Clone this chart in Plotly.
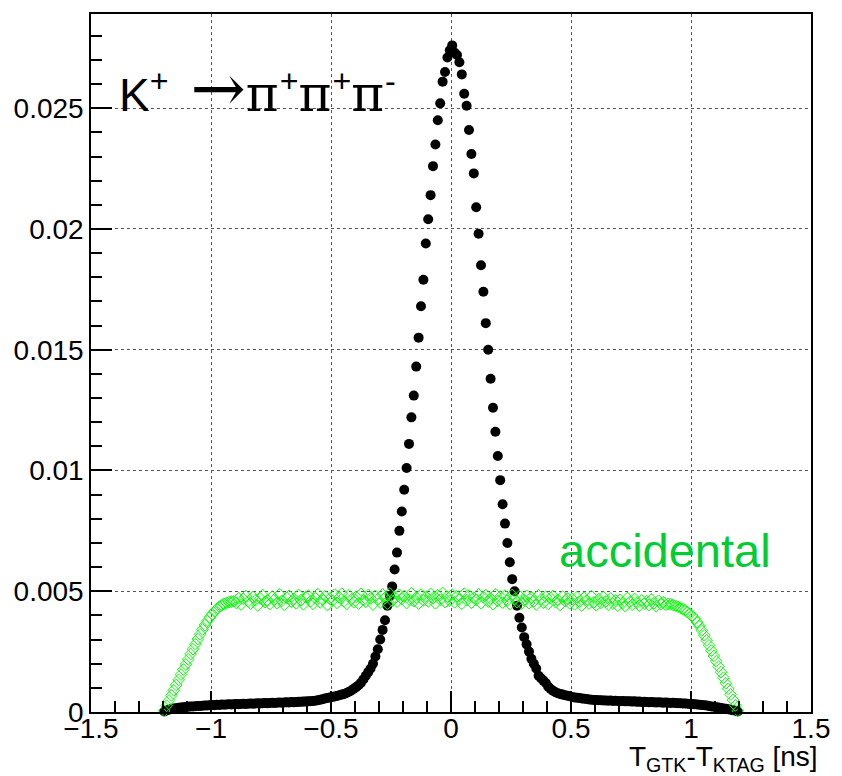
import numpy as np
import plotly.graph_objects as go

# Histogram binning (bin centres from -1.195 to 1.195, width 0.01)
BIN_LO = -1.2
BIN_W = 0.01

# K+ -> pi+ pi+ pi- signal (black), 240 bins
k3pi_left_tail = [
    0.00002, 0.00006, 0.00009, 0.00012, 0.00014, 0.00016, 0.00018, 0.00019, 0.00020, 0.00021,
    0.00022, 0.00023, 0.00023, 0.00024, 0.00025, 0.00025, 0.00026, 0.00027, 0.00027, 0.00028,
    0.00029, 0.00028, 0.00030, 0.00029, 0.00031, 0.00030, 0.00031, 0.00032, 0.00031, 0.00032,
    0.00033, 0.00032, 0.00033, 0.00034, 0.00033, 0.00034, 0.00035, 0.00034, 0.00035, 0.00036,
    0.00035, 0.00036, 0.00037, 0.00036, 0.00037, 0.00038, 0.00037, 0.00038, 0.00039, 0.00038,
    0.00039, 0.00040, 0.00039, 0.00041, 0.00040, 0.00041, 0.00042, 0.00042, 0.00043, 0.00043,
    0.00044, 0.00045, 0.00046, 0.00047, 0.00049, 0.00051, 0.00053, 0.00056, 0.00058, 0.00060,
]
k3pi_core = [
    0.00062, 0.00064, 0.00066, 0.00069, 0.00072, 0.00075, 0.00079, 0.00084, 0.00089, 0.00096,
    0.00103, 0.00111, 0.00121, 0.00135, 0.00150, 0.00165, 0.00180, 0.00200, 0.00230, 0.00260,
    0.0030, 0.0034, 0.0038, 0.0044, 0.0048, 0.0052, 0.0059, 0.0066, 0.0075, 0.0083,
    0.0092, 0.0101, 0.0111, 0.0122, 0.0131, 0.0143, 0.0155, 0.0168, 0.0179, 0.0194,
    0.0204, 0.0214, 0.0226, 0.0235, 0.0245, 0.0252, 0.0261, 0.0265, 0.0271, 0.0274,
    0.0276, 0.0273, 0.0272, 0.0269, 0.0264, 0.0256, 0.0251, 0.0241, 0.0231, 0.0223,
    0.0209, 0.0198, 0.0185, 0.0174, 0.0161, 0.0150, 0.0138, 0.0126, 0.0116, 0.0106,
    0.0096, 0.0086, 0.0078, 0.0070, 0.0062, 0.0055, 0.0050, 0.0044, 0.0039, 0.0035,
    0.0031, 0.0028, 0.0025, 0.0022, 0.0020, 0.0018, 0.0015, 0.0014, 0.0013, 0.0012,
    0.00105, 0.00095, 0.00088, 0.00082, 0.00078, 0.00075, 0.00072, 0.00069, 0.00067, 0.00065,
]
k3pi_right_tail = [
    0.00062, 0.00060, 0.00059, 0.00058, 0.00056, 0.00055, 0.00054, 0.00052, 0.00051, 0.00050,
    0.00050, 0.00049, 0.00049, 0.00048, 0.00048, 0.00047, 0.00048, 0.00046, 0.00047, 0.00046,
    0.00045, 0.00046, 0.00044, 0.00045, 0.00044, 0.00043, 0.00044, 0.00042, 0.00043, 0.00041,
    0.00042, 0.00041, 0.00040, 0.00041, 0.00040, 0.00039, 0.00040, 0.00039, 0.00038, 0.00039,
    0.00038, 0.00037, 0.00038, 0.00037, 0.00036, 0.00036, 0.00035, 0.00035, 0.00034, 0.00033,
    0.00033, 0.00032, 0.00031, 0.00030, 0.00029, 0.00028, 0.00027, 0.00025, 0.00023, 0.00022,
    0.00020, 0.00019, 0.00017, 0.00015, 0.00013, 0.00011, 0.00009, 0.00007, 0.00005, 0.00002,
]

# accidental (green), 240 bins
acc_left_edge = [
    0.00005, 0.00026, 0.00048, 0.00069, 0.00090, 0.00112, 0.00133, 0.00155, 0.00176, 0.00197,
    0.00218, 0.00240, 0.00260, 0.00281, 0.00302, 0.00322, 0.00342, 0.00360, 0.00377, 0.00392,
    0.00405, 0.00417, 0.00427, 0.00436, 0.00442, 0.00448, 0.00452, 0.00455, 0.00457, 0.00459,
]
acc_plateau = [
    0.00452, 0.00471, 0.00445, 0.00468, 0.00480, 0.00458, 0.00449, 0.00476, 0.00463, 0.00441,
    0.00470, 0.00484, 0.00455, 0.00462, 0.00447, 0.00478, 0.00466, 0.00451, 0.00487, 0.00460,
    0.00444, 0.00473, 0.00481, 0.00457, 0.00468, 0.00450, 0.00485, 0.00463, 0.00446, 0.00475,
    0.00482, 0.00459, 0.00448, 0.00471, 0.00488, 0.00454, 0.00466, 0.00479, 0.00443, 0.00469,
    0.00461, 0.00486, 0.00452, 0.00474, 0.00490, 0.00458, 0.00447, 0.00483, 0.00467, 0.00455,
    0.00477, 0.00449, 0.00489, 0.00463, 0.00456, 0.00484, 0.00470, 0.00445, 0.00481, 0.00466,
    0.00453, 0.00487, 0.00472, 0.00448, 0.00491, 0.00460, 0.00476, 0.00457, 0.00485, 0.00468,
    0.00480, 0.00451, 0.00466, 0.00492, 0.00459, 0.00474, 0.00449, 0.00486, 0.00462, 0.00478,
    0.00458, 0.00489, 0.00471, 0.00450, 0.00483, 0.00465, 0.00493, 0.00455, 0.00477, 0.00461,
    0.00486, 0.00454, 0.00479, 0.00467, 0.00448, 0.00490, 0.00463, 0.00482, 0.00452, 0.00473,
    0.00465, 0.00488, 0.00450, 0.00476, 0.00484, 0.00457, 0.00470, 0.00446, 0.00487, 0.00460,
    0.00478, 0.00453, 0.00482, 0.00462, 0.00447, 0.00485, 0.00468, 0.00455, 0.00480, 0.00449,
    0.00463, 0.00481, 0.00451, 0.00474, 0.00458, 0.00445, 0.00483, 0.00466, 0.00452, 0.00477,
    0.00448, 0.00472, 0.00480, 0.00455, 0.00464, 0.00443, 0.00478, 0.00459, 0.00470, 0.00450,
    0.00468, 0.00446, 0.00475, 0.00457, 0.00441, 0.00473, 0.00461, 0.00449, 0.00479, 0.00454,
    0.00442, 0.00467, 0.00452, 0.00476, 0.00458, 0.00445, 0.00470, 0.00449, 0.00463, 0.00440,
    0.00465, 0.00451, 0.00439, 0.00472, 0.00456, 0.00444, 0.00468, 0.00453, 0.00441, 0.00462,
    0.00448, 0.00459, 0.00443, 0.00466, 0.00450, 0.00438, 0.00461, 0.00447, 0.00455, 0.00444,
]
acc_right_edge = [
    0.00448, 0.00446, 0.00443, 0.00440, 0.00436, 0.00432, 0.00427, 0.00421, 0.00414, 0.00406,
    0.00397, 0.00386, 0.00372, 0.00356, 0.00338, 0.00318, 0.00297, 0.00276, 0.00254, 0.00232,
    0.00210, 0.00188, 0.00165, 0.00142, 0.00119, 0.00096, 0.00073, 0.00050, 0.00027, 0.00005,
]

k3pi = k3pi_left_tail + k3pi_core + k3pi_right_tail
accidental = acc_left_edge + acc_plateau + acc_right_edge
x_centres = BIN_LO + BIN_W * (np.arange(len(k3pi)) + 0.5)

x_tickvals = [-1.5, -1, -0.5, 0, 0.5, 1, 1.5]
x_ticktext = ["\u22121.5", "\u22121", "\u22120.5", "0", "0.5", "1", "1.5"]
y_tickvals = [0, 0.005, 0.01, 0.015, 0.02, 0.025]
y_ticktext = ["0", "0.005", "0.01", "0.015", "0.02", "0.025"]

FONT = "Liberation Sans, Arial, Helvetica, sans-serif"
SYM = "DejaVu Serif, serif"

fig = go.Figure()
fig.add_trace(go.Scatter(
    x=x_centres, y=k3pi, mode="markers",
    marker=dict(symbol="circle", size=10, color="black", line=dict(width=0)),
    cliponaxis=False, showlegend=False,
))
fig.add_trace(go.Scatter(
    x=x_centres, y=accidental, mode="markers",
    marker=dict(symbol="diamond-open", size=9, color="#00ff00", line=dict(width=1, color="#00ff00")),
    cliponaxis=False, showlegend=False,
))

axis_common = dict(
    showline=True, linecolor="black", linewidth=1.5, mirror=True,
    ticks="inside", tickcolor="black", tickwidth=1.5, ticklen=21,
    showgrid=True, gridcolor="#555555", griddash="dot", gridwidth=1,
    zeroline=False,
    tickfont=dict(family=FONT, size=28, color="black"),
)

fig.update_xaxes(
    range=[-1.5, 1.5], tickmode="array", tickvals=x_tickvals, ticktext=x_ticktext,
    ticklabelstandoff=-9,
    minor=dict(ticks="inside", ticklen=11, dtick=0.1, tick0=-1.5, tickcolor="black", tickwidth=1.5, showgrid=False),
    **axis_common,
)
fig.update_yaxes(
    range=[0, 0.0289], tickmode="array", tickvals=y_tickvals, ticktext=y_ticktext,
    minor=dict(ticks="inside", ticklen=11, dtick=0.001, tick0=0, tickcolor="black", tickwidth=1.5, showgrid=False),
    **axis_common,
)

fig.add_annotation(
    text="T<sub>GTK</sub>-T<sub>KTAG</sub> [ns]", xref="paper", yref="paper",
    x=1.012, y=-0.067, xanchor="right", yanchor="middle", showarrow=False,
    font=dict(family=FONT, size=28, color="black"),
)
pi = f'<span style="font-family:{SYM};font-size:50px;letter-spacing:1px">\u03c0</span>'
arrow = f'<span style="font-family:{SYM};font-size:66px">\u2192</span>'
fig.add_annotation(
    text=f"K<sup>+</sup> \u2009{arrow}{pi}<sup>+</sup>{pi}<sup>+</sup>{pi}<sup>-</sup>",
    x=-1.39, y=0.0258, xanchor="left", yanchor="middle", showarrow=False,
    font=dict(family=FONT, size=46, color="black"),
)
fig.add_annotation(
    text="accidental", x=0.441, y=0.0067, xanchor="left", yanchor="middle", showarrow=False,
    font=dict(family=FONT, size=47, color="#00cc33"),
)

fig.update_layout(
    width=842, height=776,
    margin=dict(l=91, r=23, t=12, b=64),
    paper_bgcolor="white", plot_bgcolor="white",
    font=dict(family=FONT),
)

fig.write_html("out.html")
